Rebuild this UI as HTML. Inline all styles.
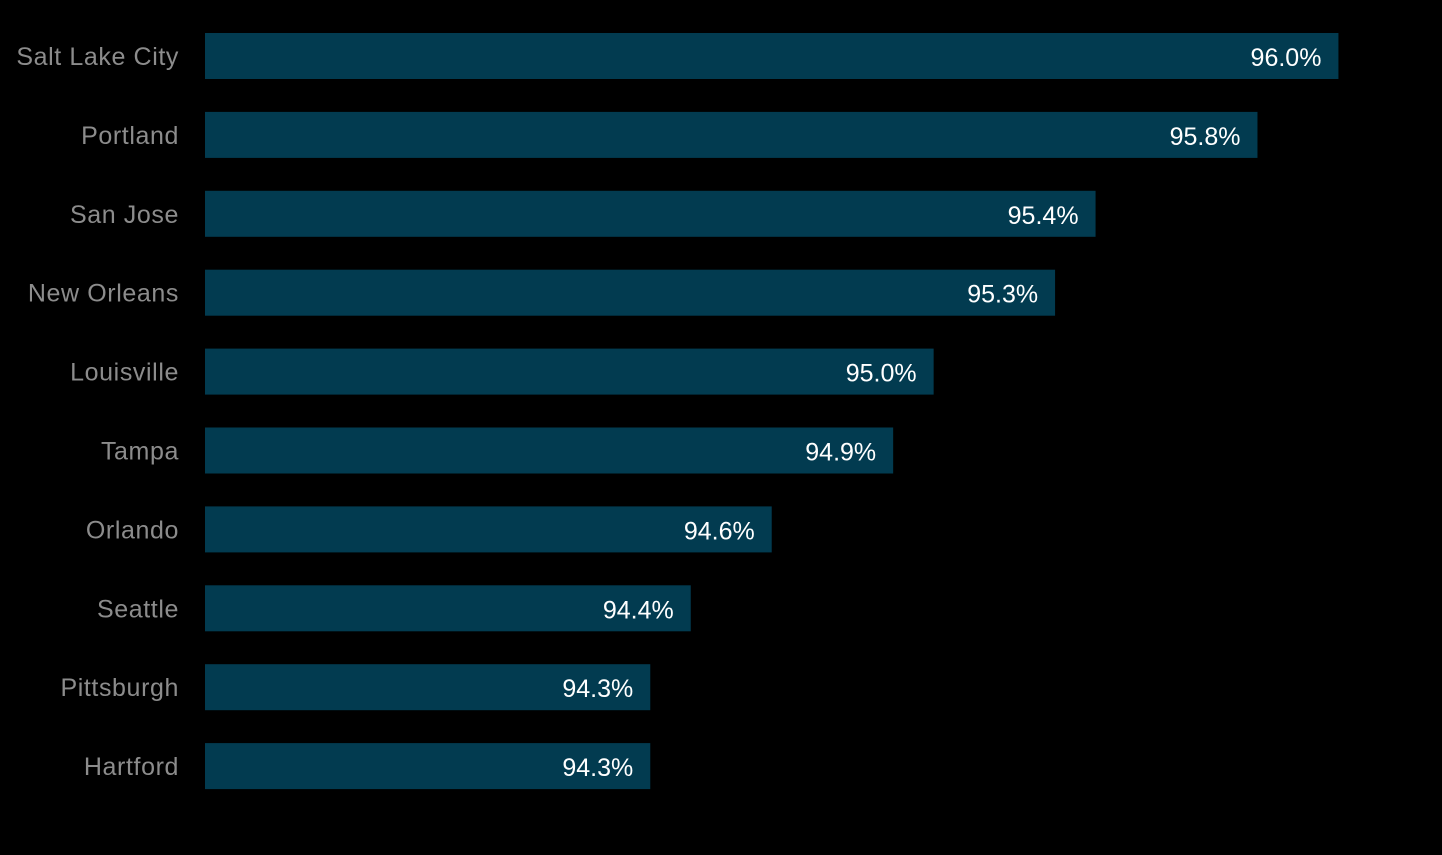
<!DOCTYPE html>
<html><head><meta charset="utf-8"><style>
html,body{margin:0;padding:0;background:#000;}
svg{display:block;}
</style></head><body>
<svg id="chart" width="1442" height="855" xmlns="http://www.w3.org/2000/svg"></svg>
<script>
const categories = ["Salt Lake City","Portland","San Jose","New Orleans","Louisville","Tampa","Orlando","Seattle","Pittsburgh","Hartford"];
const values = [96.0,95.8,95.4,95.3,95.0,94.9,94.6,94.4,94.3,94.3];
const valueLabels = ["96.0%","95.8%","95.4%","95.3%","95.0%","94.9%","94.6%","94.4%","94.3%","94.3%"];

const svg = document.getElementById('chart');
const NS = 'http://www.w3.org/2000/svg';
const x0 = 205, xMin = 93.2, pxPerUnit = 404.8;
const xScale = v => x0 + (v - xMin) * pxPerUnit;
const yTop = i => 33 + i * 78.9;
const barH = 46;

categories.forEach((c, i) => {
  const g = document.createElementNS(NS, 'g');
  
  
  const r = document.createElementNS(NS, 'rect');
  
  
  r.setAttribute('x', x0);
  r.setAttribute('y', yTop(i));
  r.setAttribute('width', xScale(values[i]) - x0);
  r.setAttribute('height', barH);
  r.setAttribute('fill', '#023b50');
  g.appendChild(r);

  const lab = document.createElementNS(NS, 'text');
  
  
  lab.setAttribute('x', 179);
  lab.setAttribute('y', yTop(i) + barH / 2 + 9);
  lab.setAttribute('text-anchor', 'end');
  lab.setAttribute('fill', '#8c8c8c');
  lab.setAttribute('font-family', 'Liberation Sans, sans-serif');
  lab.setAttribute('font-size', '25');
  lab.setAttribute('letter-spacing', '0.6');
  lab.textContent = c;
  g.appendChild(lab);

  const vl = document.createElementNS(NS, 'text');
  
  
  vl.setAttribute('x', xScale(values[i]) - 17);
  vl.setAttribute('y', yTop(i) + barH / 2 + 10);
  vl.setAttribute('text-anchor', 'end');
  vl.setAttribute('fill', '#ffffff');
  vl.setAttribute('font-family', 'Liberation Sans, sans-serif');
  vl.setAttribute('font-size', '25');
  vl.textContent = valueLabels[i];
  g.appendChild(vl);

  svg.appendChild(g);
});
</script>
</body></html>
